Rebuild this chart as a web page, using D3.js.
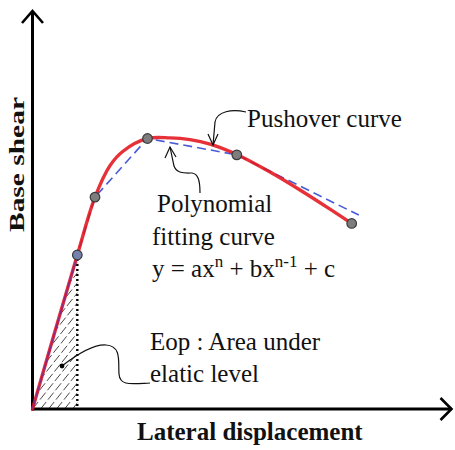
<!DOCTYPE html>
<html><head><meta charset="utf-8">
<script src="https://cdn.jsdelivr.net/npm/d3@7"></script>
<style>
html,body{margin:0;padding:0;background:#fff;}
svg{display:block;}
text{font-family:"Liberation Serif","Times New Roman",serif;fill:#111;}
</style></head>
<body>
<svg id="chart" width="455" height="450"></svg>
<script>
// ---- data (arbitrary units: displacement 0-100, base shear 0-100) ----
const pushoverX = [0, 10.67, 14.88, 18.45, 21.55, 27.38, 32.74, 37.5, 42.26, 48.64, 56.55, 63.69, 70.83, 76.0];
const pushoverY = [0, 38.6, 53.1, 61.0, 64.6, 67.8, 67.95, 67.5, 66.4, 63.8, 59.4, 54.9, 50.1, 46.5];
const fitX = [0, 10.67, 14.88, 27.38, 48.64, 77.7];
const fitY = [0, 38.6, 53.1, 67.8, 63.7, 48.6];
const markX = [10.67, 14.88, 27.38, 48.64, 76.0];
const markY = [38.6, 53.1, 67.8, 63.7, 46.5];
const elasticX = 10.67, elasticY = 38.6;
const labels = {
  x: "Lateral displacement",
  y: "Base shear",
  pushover: "Pushover curve",
  poly1: "Polynomial",
  poly2: " fitting curve",
  eop1: "Eop : Area under",
  eop2: "elatic level"
};

const svg = d3.select("#chart");
const x = d3.scaleLinear().domain([0, 100]).range([32.5, 452.5]);
const y = d3.scaleLinear().domain([0, 100]).range([409, 10]);

// ---- hatched elastic area ----
const defs = svg.append("defs");
defs.append("clipPath").attr("id", "tri").append("path")
  .attr("d", `M${x(0)},${y(0)}L${x(elasticX)},${y(elasticY)}L${x(elasticX)},${y(0)}Z`);
const hatch = svg.append("g").attr("clip-path", "url(#tri)");
const slope = 1.25;
d3.range(-160, 90, 8).forEach(x0 => {
  hatch.append("line")
    .attr("x1", x(0) + x0).attr("y1", y(0))
    .attr("x2", x(0) + x0 + 200 / slope).attr("y2", y(0) - 200)
    .attr("stroke", "#333").attr("stroke-width", 0.9)
    .attr("stroke-dasharray", "9,3");
});
// dotted vertical
svg.append("line")
  .attr("x1", x(elasticX)).attr("x2", x(elasticX))
  .attr("y1", y(elasticY) + 4).attr("y2", y(0))
  .attr("stroke", "#000").attr("stroke-width", 2.4)
  .attr("stroke-dasharray", "2,3");

// ---- axes ----
const xAxis = d3.axisBottom(x).tickValues([]).tickSizeOuter(0);
const yAxis = d3.axisLeft(y).tickValues([]).tickSizeOuter(0);
svg.append("g").attr("transform", `translate(0,${y(0)})`).call(xAxis)
  .select(".domain").attr("stroke", "#000").attr("stroke-width", 3)
  .attr("d", `M${x(0)},0H${x(100) - 1}`);
svg.append("g").attr("transform", `translate(${x(0)},0)`).call(yAxis)
  .select(".domain").attr("stroke", "#000").attr("stroke-width", 3)
  .attr("d", `M0,${y(0) + 1.5}V${y(100) + 1}`);
// arrowheads
svg.append("path")
  .attr("d", `M${x(0) - 10.5},${y(100) + 13}L${x(0)},${y(100) + 1}L${x(0) + 10.5},${y(100) + 13}`)
  .attr("fill", "none").attr("stroke", "#000").attr("stroke-width", 2.6);
svg.append("path")
  .attr("d", `M${x(100) - 12},${y(0) - 11}L${x(100) - 1},${y(0)}L${x(100) - 12},${y(0) + 11}`)
  .attr("fill", "none").attr("stroke", "#000").attr("stroke-width", 2.6);

// ---- curves ----
const fitLine = d3.line().x((d, i) => x(fitX[i])).y((d, i) => y(fitY[i]));
const pushLine = d3.line().x((d, i) => x(pushoverX[i])).y((d, i) => y(pushoverY[i]))
  .curve(d3.curveCatmullRom.alpha(0.5));

svg.append("path").attr("d", fitLine(fitX))
  .attr("fill", "none").attr("stroke", "#4a5bd6").attr("stroke-width", 1.6)
  .attr("stroke-dasharray", "9,5");
svg.append("path").attr("d", pushLine(pushoverX))
  .attr("fill", "none").attr("stroke", "#e3141c").attr("stroke-width", 3.4)
  .attr("stroke-opacity", 0.88).attr("stroke-linecap", "round");
// purple overlap on elastic branch
svg.append("path").attr("d", fitLine(fitX.slice(0, 2)))
  .attr("fill", "none").attr("stroke", "#7a2a9a").attr("stroke-width", 1.6)
  .attr("stroke-opacity", 0.7);

// markers
svg.selectAll("circle.mk").data(markX).join("circle").attr("class", "mk")
  .attr("cx", (d) => x(d)).attr("cy", (d, i) => y(markY[i])).attr("r", 4.8)
  .attr("fill", (d, i) => i === 0 ? "#7482ad" : "#7d7d7d")
  .attr("stroke", "#3a3a3a").attr("stroke-width", 1.2);

// ---- annotations ----
const ann = svg.append("g").attr("fill", "none").attr("stroke", "#111").attr("stroke-width", 1.2);
// pushover leader
const pt = [213, 145];
ann.append("path").attr("d", `M246,112 C232,109 217,111 215,122 L${pt[0]},${pt[1]}`);
ann.append("path").attr("d", `M${pt[0] - 5},${pt[1] - 11}L${pt[0]},${pt[1]}L${pt[0] + 5},${pt[1] - 11}`);
// polynomial leader
const pp = [170, 147];
ann.append("path").attr("d", `M${pp[0]},${pp[1]} L174,166 C177,174 185,173 192,173 C198,174 200,180 200,193`);
ann.append("path").attr("d", `M${pp[0] - 5},${pp[1] + 11}L${pp[0]},${pp[1]}L${pp[0] + 6},${pp[1] + 10}`);
// Eop leader
svg.append("circle").attr("cx", 62).attr("cy", 366).attr("r", 2.4).attr("fill", "#000");
ann.append("path").attr("d", "M62,366 C75,356 92,344 106,345 C122,346 118,362 119,374 C120,386 130,384 150,383");

// ---- texts ----
const T = (s, px, py, size, weight) => svg.append("text").attr("x", px).attr("y", py)
  .attr("font-size", size).attr("font-weight", weight || "normal").text(s);
T(labels.pushover, 247, 127, 25);
T(labels.poly1, 157, 212, 25);
T(labels.poly2, 152, 245, 25);
const eq = svg.append("text").attr("x", 152).attr("y", 277).attr("font-size", 25);
eq.append("tspan").text("y = ax");
eq.append("tspan").attr("font-size", 17).attr("dy", -10).text("n");
eq.append("tspan").attr("dy", 10).text(" + bx");
eq.append("tspan").attr("font-size", 17).attr("dy", -10).text("n-1");
eq.append("tspan").attr("dy", 10).text(" + c");
T(labels.eop1, 150, 350, 25);
T(labels.eop2, 150, 382, 25);
T(labels.x, 137, 440, 25, "bold");
svg.append("text").attr("transform", "translate(24,232) rotate(-90)")
  .attr("font-size", 20).attr("font-weight", "bold")
  .attr("textLength", 135).attr("lengthAdjust", "spacingAndGlyphs")
  .text(labels.y);
</script>
</body></html>
